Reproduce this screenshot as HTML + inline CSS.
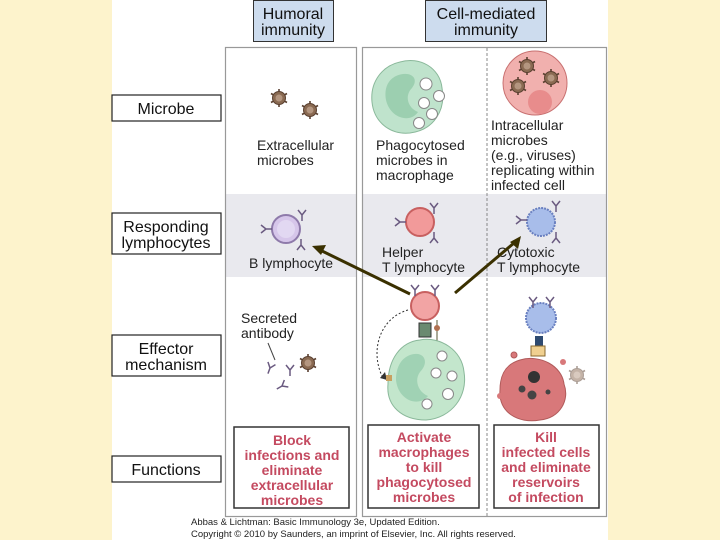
<!DOCTYPE html>
<html><head><meta charset="utf-8"><style>
html,body{margin:0;padding:0;background:#fdf3cc;}
svg{display:block;font-family:"Liberation Sans",sans-serif;}
</style></head><body>
<svg width="720" height="540" viewBox="0 0 720 540" xmlns="http://www.w3.org/2000/svg">
<defs>
<g id="mic">
  <g stroke="#5a4030" stroke-width="1.6">
    <line x1="0" y1="-9" x2="0" y2="9"/><line x1="-8" y1="-4.5" x2="8" y2="4.5"/><line x1="-8" y1="4.5" x2="8" y2="-4.5"/>
  </g>
  <circle r="6.5" fill="#8a6a52" stroke="#5a4030"/><circle r="3.5" fill="#b49680"/>
</g>
<g id="ab" stroke="#6a5a80" stroke-width="1.5" fill="none">
  <path d="M0,6 L0,0 L-4,-5 M0,0 L4,-5"/>
</g>
</defs>
<rect x="112" y="0" width="496" height="540" fill="#fff"/>
<!-- headers -->
<rect x="253.5" y="0.5" width="80" height="41" fill="#cddcee" stroke="#333"/>
<text x="293" y="19" font-size="16" text-anchor="middle" fill="#111">Humoral</text>
<text x="293" y="35" font-size="16" text-anchor="middle" fill="#111">immunity</text>
<rect x="425.5" y="0.5" width="121" height="41" fill="#cddcee" stroke="#333"/>
<text x="486" y="19" font-size="16" text-anchor="middle" fill="#111">Cell-mediated</text>
<text x="486" y="35" font-size="16" text-anchor="middle" fill="#111">immunity</text>
<!-- panels -->
<rect x="226" y="194" width="131" height="83" fill="#e9e9ee"/>
<rect x="362" y="194" width="245" height="83" fill="#e9e9ee"/>
<rect x="225.5" y="47.5" width="131" height="469" fill="none" stroke="#999" stroke-width="1.2"/>
<rect x="362.5" y="47.5" width="244" height="469" fill="none" stroke="#999" stroke-width="1.2"/>
<line x1="487" y1="48" x2="487" y2="516" stroke="#888" stroke-dasharray="3,2"/>
<!-- row labels -->
<g fill="#fff" stroke="#222" stroke-width="1.2">
<rect x="112" y="95" width="109" height="26"/>
<rect x="112" y="213" width="109" height="41"/>
<rect x="112" y="335" width="109" height="41"/>
<rect x="112" y="456" width="109" height="26"/>
</g>
<g font-size="16" text-anchor="middle" fill="#111">
<text x="166" y="114">Microbe</text>
<text x="166" y="232">Responding</text><text x="166" y="248">lymphocytes</text>
<text x="166" y="354">Effector</text><text x="166" y="370">mechanism</text>
<text x="166" y="475">Functions</text>
</g>
<!-- microbe row -->
<use href="#mic" x="279" y="98"/><use href="#mic" x="310" y="110"/>
<g font-size="14" fill="#222">
<text x="257" y="150">Extracellular</text><text x="257" y="165">microbes</text>
<text x="376" y="150">Phagocytosed</text><text x="376" y="165">microbes in</text><text x="376" y="180">macrophage</text>
<text x="491" y="130">Intracellular</text><text x="491" y="145">microbes</text><text x="491" y="160">(e.g., viruses)</text><text x="491" y="175">replicating within</text><text x="491" y="190">infected cell</text>
</g>
<path d="M400,62 C420,56 440,68 442,88 C446,110 434,130 410,133 C390,135 374,122 372,102 C370,82 382,66 400,62Z" fill="#bfe3cc" stroke="#8ab89a"/>
<path d="M396,76 C410,70 420,78 412,88 C404,96 408,108 418,112 C410,124 390,118 386,100 C384,88 388,80 396,76Z" fill="#9ccfb0"/>
<g fill="#fff" stroke="#888"><circle cx="426" cy="84" r="6"/><circle cx="439" cy="96" r="5.5"/><circle cx="424" cy="103" r="5.5"/><circle cx="432" cy="114" r="5.5"/><circle cx="419" cy="123" r="5.5"/></g>
<circle cx="535" cy="83" r="32" fill="#f1b0ae" stroke="#c87070"/>
<circle cx="540" cy="102" r="12" fill="#e88c8c"/>
<use href="#mic" x="527" y="66"/><use href="#mic" x="551" y="78"/><use href="#mic" x="518" y="86"/>
<!-- responding -->
<circle cx="286" cy="229" r="14" fill="#d6c6ea" stroke="#8e7aaa" stroke-width="2"/><circle cx="286" cy="229" r="9" fill="#e2d8f2"/>
<use href="#ab" x="266" y="229" transform="rotate(-90 266 229)"/><use href="#ab" x="302" y="215"/><use href="#ab" x="301" y="245" transform="rotate(180 301 245)"/>
<circle cx="420" cy="222" r="14" fill="#f29a9a" stroke="#c86060" stroke-width="2"/>
<use href="#ab" x="400" y="222" transform="rotate(-90 400 222)"/><use href="#ab" x="434" y="208"/><use href="#ab" x="434" y="238" transform="rotate(180 434 238)"/>
<circle cx="541" cy="222" r="14" fill="#a8bdea" stroke="#6a80c0" stroke-width="2" stroke-dasharray="2,1"/>
<use href="#ab" x="521" y="220" transform="rotate(-90 521 220)"/><use href="#ab" x="556" y="206"/><use href="#ab" x="556" y="238" transform="rotate(180 556 238)"/>
<g font-size="14" fill="#222">
<text x="249" y="268">B lymphocyte</text>
<text x="382" y="257">Helper</text><text x="382" y="272">T lymphocyte</text>
<text x="497" y="257">Cytotoxic</text><text x="497" y="272">T lymphocyte</text>
</g>
<!-- arrows -->
<g stroke="#3a3000" stroke-width="3">
<line x1="410" y1="294" x2="320" y2="250"/><line x1="455" y1="293" x2="514" y2="243"/>
</g>
<polygon points="312,246 326,245 321,255" fill="#3a3000"/>
<polygon points="521,236 518,249 510,242" fill="#3a3000"/>
<!-- effector -->
<g font-size="14" fill="#222"><text x="241" y="323">Secreted</text><text x="241" y="338">antibody</text></g>
<line x1="268" y1="343" x2="275" y2="360" stroke="#444"/>
<use href="#ab" x="270" y="368" transform="rotate(20 270 368)"/><use href="#ab" x="290" y="370"/><use href="#ab" x="282" y="386" transform="rotate(60 282 386)"/>
<use href="#mic" x="308" y="363"/>
<circle cx="425" cy="306" r="14" fill="#f2a4a4" stroke="#c86060" stroke-width="2"/>
<use href="#ab" x="415" y="290"/><use href="#ab" x="435" y="290"/>
<rect x="419" y="323" width="12" height="14" fill="#6a8a70" stroke="#333"/>
<line x1="437" y1="320" x2="437" y2="345" stroke="#553"/><circle cx="437" cy="328" r="3" fill="#b07050"/>
<path d="M420,340 C440,336 462,350 464,372 C468,396 452,418 426,420 C402,420 386,406 388,384 C388,360 400,342 420,340Z" fill="#c3e6cc" stroke="#8ab89a"/>
<path d="M410,355 C424,350 430,362 420,372 C414,380 418,392 428,396 C418,408 398,400 396,380 C396,366 402,358 410,355Z" fill="#a0d2b4"/>
<g fill="#fff" stroke="#888"><circle cx="442" cy="356" r="5"/><circle cx="436" cy="373" r="5"/><circle cx="452" cy="376" r="5"/><circle cx="448" cy="394" r="5.5"/><circle cx="427" cy="404" r="5"/></g>
<path d="M408,310 C380,318 370,350 382,376" fill="none" stroke="#333" stroke-dasharray="2,2"/>
<polygon points="380,378 385,372 387,380" fill="#333"/>
<rect x="386" y="375" width="6" height="6" fill="#c8a060"/>
<circle cx="541" cy="318" r="15" fill="#a8bdea" stroke="#6a80c0" stroke-width="2" stroke-dasharray="2,1"/>
<use href="#ab" x="533" y="302"/><use href="#ab" x="550" y="302"/>
<rect x="535" y="336" width="8" height="10" fill="#2e4a70"/><rect x="531" y="346" width="14" height="10" fill="#f0d090" stroke="#8a6a30"/>
<path d="M520,360 C540,354 562,366 564,384 C570,400 560,418 540,420 C518,424 498,412 500,390 C500,374 506,364 520,360Z" fill="#d8787a" stroke="#b05a5a"/>
<circle cx="534" cy="377" r="6" fill="#333"/><circle cx="522" cy="389" r="3.5" fill="#444"/><circle cx="532" cy="395" r="4.5" fill="#444"/><circle cx="548" cy="392" r="2.5" fill="#444"/>
<circle cx="514" cy="355" r="3" fill="#d8787a" stroke="#b05a5a"/><circle cx="563" cy="362" r="3" fill="#d8787a"/><circle cx="500" cy="396" r="3" fill="#d8787a"/>
<g transform="translate(577,375)" opacity="0.5"><use href="#mic"/></g>
<!-- functions -->
<g fill="#fff" stroke="#333" stroke-width="1.5">
<rect x="234" y="427" width="115" height="81"/>
<rect x="368" y="425" width="111" height="83"/>
<rect x="494" y="425" width="105" height="83"/>
</g>
<g font-size="14" font-weight="bold" fill="#c44a60" text-anchor="middle">
<text x="292" y="445">Block</text><text x="292" y="460">infections and</text><text x="292" y="475">eliminate</text><text x="292" y="490">extracellular</text><text x="292" y="505">microbes</text>
<text x="424" y="442">Activate</text><text x="424" y="457">macrophages</text><text x="424" y="472">to kill</text><text x="424" y="487">phagocytosed</text><text x="424" y="502">microbes</text>
<text x="546" y="442">Kill</text><text x="546" y="457">infected cells</text><text x="546" y="472">and eliminate</text><text x="546" y="487">reservoirs</text><text x="546" y="502">of infection</text>
</g>
<g font-size="9.5" fill="#222">
<text x="191" y="525">Abbas &amp; Lichtman: Basic Immunology 3e, Updated Edition.</text>
<text x="191" y="537">Copyright © 2010 by Saunders, an imprint of Elsevier, Inc. All rights reserved.</text>
</g>
</svg>
</body></html>
